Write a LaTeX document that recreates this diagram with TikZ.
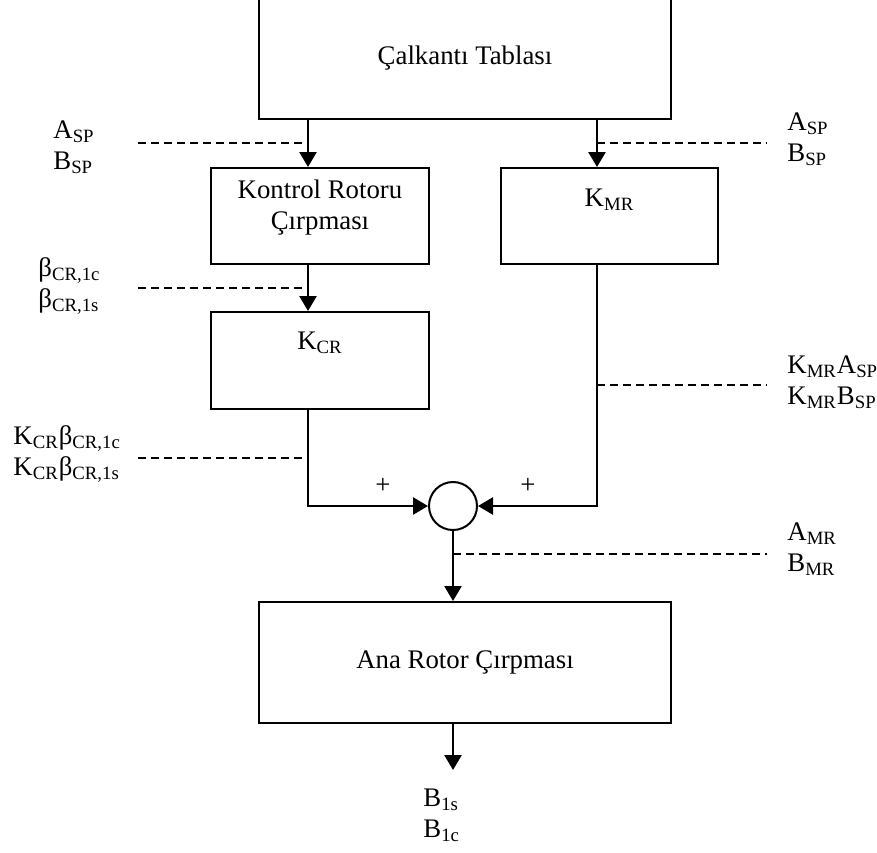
\documentclass[tikz,border=0pt]{standalone}
\usepackage{fontspec}
\setmainfont{Liberation Serif}
\usetikzlibrary{arrows.meta,calc}
\newcommand{\lowsub}[1]{\textsubscript{#1}}

\begin{document}
\begin{tikzpicture}[
    x=0.5pt,y=-0.5pt,
    font=\fontsize{13.4}{15.5}\selectfont,
    >={Triangle[length=7.5pt,width=8.5pt]},
    block/.style={
        draw=black,
        line width=1pt,
        fill=white,
        inner sep=0pt,
        align=center
    },
    flow/.style={->, line width=1.3pt, draw=black},
    hint/.style={dashed, dash pattern=on 3.75pt off 2.75pt, line width=0.7pt},
    sumnode/.style={
        circle,
        draw=black,
        line width=1pt,
        fill=white,
        minimum size=24pt,
        inner sep=0pt
    },
    lbl/.style={align=left, anchor=west, inner sep=0pt},
    boxtext/.style={align=center, inner sep=0pt}
]
\useasboundingbox (0,0) rectangle (877,852);

% -----------------------------------------------------------------------------
% Blocks
% -----------------------------------------------------------------------------
\node[block, minimum width=206pt, minimum height=61pt] (table) at (465,58)
    {Çalkantı Tablası};

\node[block, minimum width=109pt, minimum height=48pt] (cflap) at (320,216) {};
\node[boxtext] at (320,208) {Kontrol Rotoru\\Çırpması};

\node[block, minimum width=108.5pt, minimum height=48pt] (kmr) at (609.5,216) {};
\node[boxtext] at (609.5,200) {K\lowsub{MR}};

\node[block, minimum width=109pt, minimum height=48.5pt] (kcr) at (320,360.5) {};
\node[boxtext] at (320,343) {K\lowsub{CR}};

\node[sumnode] (sum) at (453,506) {};

\node[block, minimum width=206pt, minimum height=60.5pt] (mflap) at (465,662.5)
    {Ana Rotor Çırpması};

% -----------------------------------------------------------------------------
% Signal paths
% -----------------------------------------------------------------------------
\coordinate (colL) at (308,0);
\coordinate (colR) at (597,0);
\coordinate (out) at (453,770);

\draw[flow] (table.south -| colL) -- (cflap.north -| colL);
\draw[flow] (table.south -| colR) -- (kmr.north -| colR);
\draw[flow] (cflap.south -| colL) -- (kcr.north -| colL);
\draw[flow] (kcr.south -| colL) |- (sum.west);
\draw[flow] (kmr.south -| colR) |- (sum.east);
\draw[flow] (sum.south) -- (sum.south |- mflap.north);
\draw[flow] (mflap.south -| sum) -- (out);

\node at (383,486) {+};
\node at (528,486) {+};

% -----------------------------------------------------------------------------
% Signal names
% -----------------------------------------------------------------------------
\draw[hint] (138,143) -- (308,143);
\node[lbl] at (53,147) {A\lowsub{SP}\\B\lowsub{SP}};

\draw[hint] (597,143) -- (767,143);
\node[lbl] at (787,139) {A\lowsub{SP}\\B\lowsub{SP}};

\draw[hint] (138,288) -- (308,288);
\node[lbl] at (38,286) {β\lowsub{CR,1c}\\β\lowsub{CR,1s}};

\draw[hint] (597,385) -- (767,385);
\node[lbl] at (787,382) {K\lowsub{MR}A\lowsub{SP}\\K\lowsub{MR}B\lowsub{SP}};

\draw[hint] (138,458) -- (308,458);
\node[lbl] at (13,454) {K\lowsub{CR}β\lowsub{CR,1c}\\K\lowsub{CR}β\lowsub{CR,1s}};

\draw[hint] (453,554) -- (767,554);
\node[lbl] at (787,549) {A\lowsub{MR}\\B\lowsub{MR}};

\node[lbl] at (423,815) {B\lowsub{1s}\\B\lowsub{1c}};

\end{tikzpicture}
\end{document}
